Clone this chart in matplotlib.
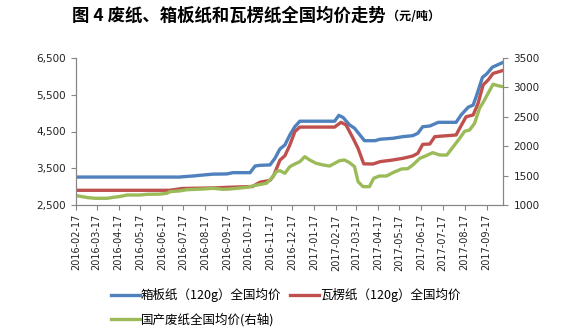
import matplotlib
matplotlib.use("Agg")
import matplotlib.pyplot as plt
import matplotlib.dates as mdates
import pandas as pd
from matplotlib.ticker import FuncFormatter, FixedLocator

plt.rcParams['font.family'] = ['DejaVu Sans']
CJK = ['Noto Sans CJK SC', 'DejaVu Sans']

title_main = "图 4 废纸、箱板纸和瓦楞纸全国均价走势"
title_unit = "（元/吨）"
series_names = ["箱板纸（120g）全国均价", "瓦楞纸（120g）全国均价", "国产废纸全国均价(右轴)"]

blue_dates = ['2016-02-17','2016-07-12','2016-07-17','2016-07-31','2016-08-14','2016-08-28','2016-09-16','2016-09-25','2016-10-19','2016-10-26',
              '2016-11-02','2016-11-16','2016-11-23','2016-11-30','2016-12-07','2016-12-14','2016-12-21','2016-12-28','2017-02-15','2017-02-21',
              '2017-02-27','2017-03-08','2017-03-15','2017-03-22','2017-03-29','2017-04-13','2017-04-20','2017-05-08','2017-05-22','2017-06-05',
              '2017-06-12','2017-06-19','2017-06-29','2017-07-11','2017-08-05','2017-08-12','2017-08-22','2017-08-29','2017-09-03','2017-09-11',
              '2017-09-17','2017-09-25','2017-10-10']
blue_vals = [3260,3260,3270,3290,3316,3340,3345,3380,3380,3560,
             3580,3590,3770,4024,4133,4405,4630,4780,4780,4940,
             4880,4680,4590,4420,4250,4250,4290,4315,4360,4387,
             4450,4630,4650,4750,4750,4950,5160,5220,5490,5970,
             6065,6250,6380]

red_dates = ['2016-02-17','2016-06-28','2016-07-16','2016-08-30','2016-09-16','2016-10-16','2016-10-22','2016-11-02','2016-11-16','2016-11-21',
             '2016-11-30','2016-12-07','2016-12-14','2016-12-21','2016-12-28','2017-02-15','2017-02-24','2017-03-03','2017-03-13','2017-03-20',
             '2017-03-28','2017-04-10','2017-04-20','2017-05-08','2017-05-22','2017-06-05','2017-06-12','2017-06-19','2017-06-29','2017-07-06',
             '2017-08-05','2017-08-10','2017-08-19','2017-08-29','2017-09-05','2017-09-12','2017-09-19','2017-09-26','2017-10-10']
red_vals = [2900,2900,2950,2965,2980,3000,3000,3120,3170,3290,
            3720,3840,4133,4496,4620,4620,4750,4680,4315,4040,
            3620,3616,3680,3725,3770,3833,3906,4150,4160,4360,
            4405,4587,4900,4950,5270,5765,5900,6080,6160]

green_dates = ['2016-02-17','2016-03-05','2016-03-15','2016-04-01','2016-04-09','2016-04-19','2016-04-29','2016-05-17','2016-05-27','2016-06-14',
               '2016-06-24','2016-06-28','2016-07-12','2016-07-22','2016-08-14','2016-08-28','2016-09-11','2016-09-21','2016-10-14','2016-10-29',
               '2016-11-11','2016-11-18','2016-11-25','2016-11-30','2016-12-07','2016-12-14','2016-12-21','2016-12-28','2017-01-04','2017-01-11',
               '2017-01-20','2017-01-30','2017-02-08','2017-02-15','2017-02-22','2017-03-01','2017-03-08','2017-03-15','2017-03-20','2017-03-27',
               '2017-04-05','2017-04-11','2017-04-19','2017-04-29','2017-05-08','2017-05-20','2017-05-29','2017-06-05','2017-06-15','2017-06-24',
               '2017-07-03','2017-07-13','2017-07-23','2017-08-01','2017-08-10','2017-08-17','2017-08-24','2017-08-31','2017-09-07','2017-09-14',
               '2017-09-19','2017-09-26','2017-10-03','2017-10-10']
green_vals = [1160,1125,1114,1114,1130,1145,1170,1170,1182,1185,
              1199,1226,1240,1260,1272,1284,1267,1272,1300,1340,
              1369,1454,1567,1584,1539,1652,1697,1737,1822,1765,
              1709,1680,1663,1709,1754,1765,1720,1652,1397,1312,
              1312,1454,1493,1493,1550,1612,1618,1680,1794,1839,
              1890,1850,1850,1992,2134,2254,2276,2389,2645,2786,
              2900,3053,3029,3012]

x_tick_labels = ['2016-02-17','2016-03-17','2016-04-17','2016-05-17','2016-06-17','2016-07-17','2016-08-17',
                 '2016-09-17','2016-10-17','2016-11-17','2016-12-17','2017-01-17','2017-02-17','2017-03-17',
                 '2017-04-17','2017-05-17','2017-06-17','2017-07-17','2017-08-17','2017-09-17']
left_ticks = [2500, 3500, 4500, 5500, 6500]
right_ticks = [1000, 1500, 2000, 2500, 3000, 3500]

BLUE = '#4F81BD'
RED = '#C0504D'
GREEN = '#9BBB59'
GRAY = '#868686'

fig = plt.figure(figsize=(5.69, 3.35), dpi=100)
ax = fig.add_axes([76/569, 1-205/335, (503-76)/569, (205-58)/335])
ax2 = ax.twinx()

l1, = ax.plot(pd.to_datetime(blue_dates), blue_vals, color=BLUE, lw=2.4, solid_joinstyle='round')
l2, = ax.plot(pd.to_datetime(red_dates), red_vals, color=RED, lw=2.4, solid_joinstyle='round')
l3, = ax2.plot(pd.to_datetime(green_dates), green_vals, color=GREEN, lw=2.4, solid_joinstyle='round')

ax.set_xlim(pd.Timestamp('2016-02-17'), pd.Timestamp('2017-10-10'))
ax.set_ylim(2500, 6500)
ax2.set_ylim(1000, 3500)

ax.xaxis.set_major_locator(FixedLocator(mdates.date2num(pd.to_datetime(x_tick_labels))))
ax.set_xticklabels(x_tick_labels, rotation=90, fontsize=7, color='#222222')
ax.set_yticks(left_ticks)
ax.yaxis.set_major_formatter(FuncFormatter(lambda v, p: f"{int(v):,}"))
ax2.set_yticks(right_ticks)
ax2.yaxis.set_major_formatter(FuncFormatter(lambda v, p: f"{int(v)}"))

for a in (ax, ax2):
    a.spines['top'].set_visible(False)
    for s in ('left', 'right', 'bottom'):
        a.spines[s].set_color(GRAY)
        a.spines[s].set_linewidth(0.8)
    a.tick_params(colors=GRAY, labelcolor='#222222', length=3.5, width=0.8, labelsize=7.5)
ax.tick_params(axis='x', labelsize=7, pad=3)
ax.tick_params(axis='y', pad=4)
ax2.tick_params(axis='y', pad=4)

fig.text(72/569, 1-16/335, title_main, family=CJK, fontsize=12.5, fontweight='bold', va='center', ha='left')
fig.text(387/569, 1-17/335, title_unit, family=CJK, fontsize=8.7, fontweight='bold', va='center', ha='left')

leg = fig.legend([l1, l3, l2], [series_names[0], series_names[2], series_names[1]], ncol=2,
                 loc='upper left', bbox_to_anchor=(106/569, 1-283/335), frameon=False,
                 prop={'family': CJK, 'size': 9}, handlelength=2.3, handletextpad=0.1,
                 columnspacing=0.7, labelspacing=0.85, borderaxespad=0)

fig.savefig('out.png', dpi=100)
